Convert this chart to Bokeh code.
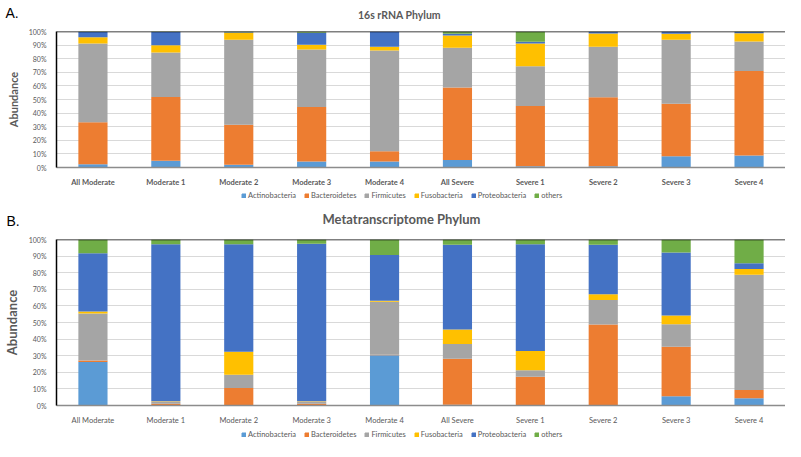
from bokeh.plotting import figure
from bokeh.layouts import column, row
from bokeh.models import ColumnDataSource, Legend, LegendItem, Span, FixedTicker
from bokeh.core.properties import value
from bokeh.embed import file_html
from bokeh.resources import INLINE

categories = ["All Moderate", "Moderate 1", "Moderate 2", "Moderate 3", "Moderate 4",
              "All Severe", "Severe 1", "Severe 2", "Severe 3", "Severe 4"]
phyla = ["Actinobacteria", "Bacteroidetes", "Firmicutes", "Fusobacteria", "Proteobacteria", "others"]
colors = ["#5B9BD5", "#ED7D31", "#A5A5A5", "#FFC000", "#4472C4", "#70AD47"]

# Panel A: 16s rRNA (percent)
a_actino = [2.4, 5.0, 2.1, 4.5, 4.5, 5.5, 1.0, 1.0, 8.3, 8.8]
a_bact = [30.9, 46.9, 29.3, 40.0, 7.4, 53.3, 44.2, 50.7, 38.6, 62.2]
a_firm = [57.9, 32.6, 62.6, 42.2, 74.1, 29.3, 29.3, 37.1, 47.1, 21.6]
a_fuso = [4.5, 5.3, 5.0, 3.5, 2.8, 9.0, 16.7, 9.8, 4.3, 6.2]
a_proteo = [3.9, 9.9, 0.5, 8.8, 11.2, 1.2, 1.2, 1.2, 1.7, 0.8]
a_others = [0.4, 0.3, 0.5, 1.0, 0.0, 1.7, 7.6, 0.2, 0.1, 0.4]

# Panel B: Metatranscriptome (percent)
b_actino = [26.2, 0.2, 0.0, 0.2, 30.3, 0.5, 0.0, 0.0, 5.6, 4.3]
b_bact = [0.9, 0.8, 10.5, 0.8, 0.3, 27.7, 17.3, 48.8, 29.8, 5.1]
b_firm = [28.3, 1.6, 8.0, 1.6, 31.9, 8.9, 4.0, 14.7, 13.6, 69.3]
b_fuso = [1.3, 0.1, 13.9, 0.1, 0.6, 8.7, 11.5, 3.5, 5.2, 3.6]
b_proteo = [35.0, 94.5, 64.8, 94.8, 27.5, 51.0, 64.4, 29.8, 37.9, 3.4]
b_others = [8.3, 2.8, 2.8, 2.5, 9.4, 3.2, 2.8, 3.2, 7.9, 14.3]

y_ticks = [0, 10, 20, 30, 40, 50, 60, 70, 80, 90, 100]
y_tick_labels = ["0%", "10%", "20%", "30%", "40%", "50%", "60%", "70%", "80%", "90%", "100%"]

FONT = "Lato"
GRAY = "#595959"
W = 785


def bare(height, xr, yr):
    f = figure(width=W, height=height, x_range=xr, y_range=yr, output_backend="svg",
               toolbar_location=None, min_border=0,
               x_axis_location=None, y_axis_location=None)
    f.grid.grid_line_color = None
    f.outline_line_color = None
    return f


def header(height, letter, title, letter_xy, title_xy, title_size):
    h = bare(height, (0, W), (0, height))
    h.text(x=[letter_xy[0]], y=[letter_xy[1]], text=[letter], text_font=value("Liberation Sans"),
           text_font_size="14px", text_color="black", text_baseline="middle", text_align="left")
    h.text(x=[title_xy[0]], y=[title_xy[1]], text=[title], text_font=value(FONT),
           text_font_size=title_size, text_font_style="bold", text_color=GRAY,
           text_baseline="middle", text_align="center")
    return h


def legend_fig(height, y):
    lf = bare(height, (0, 1), (0, 1))
    # swatch renderers lie outside the visible range; only their legend entries show
    rs = [lf.vbar(x=[5], top=[1], width=0.5, color=c) for c in colors]
    items = [LegendItem(label=value(n), renderers=[r]) for n, r in zip(phyla, rs)]
    leg = Legend(items=items, orientation="horizontal", location=(241, y),
                 label_text_font=FONT, label_text_font_size="7.5px", label_text_color=GRAY,
                 glyph_width=5, glyph_height=5, label_standoff=2, spacing=8,
                 padding=0, margin=0, border_line_color=None, background_fill_alpha=0,
                 label_height=9)
    lf.add_layout(leg, "center")
    return lf


def make_panel(series, height, border_top, xlab_bold, ylab_size):
    data = {"cat": categories}
    for name, vals in zip(phyla, series):
        data[name] = vals
    src = ColumnDataSource(data)
    p = figure(x_range=categories, y_range=(0, 100), width=W, height=height,
               output_backend="svg", toolbar_location=None,
               min_border_left=47, min_border_right=0, min_border_top=border_top,
               min_border_bottom=0)
    p.vbar_stack(phyla, x="cat", width=0.4, source=src, color=colors, line_color=None)

    p.outline_line_color = None
    p.xgrid.grid_line_color = None
    p.ygrid.grid_line_color = "#D9D9D9"
    p.ygrid.grid_line_width = 1
    p.yaxis.ticker = FixedTicker(ticks=y_ticks)
    p.yaxis.major_label_overrides = {t_: l for t_, l in zip(y_ticks, y_tick_labels)}
    p.yaxis.major_label_text_font_size = "7px"
    p.yaxis.major_label_text_color = GRAY
    p.yaxis.major_label_text_font = FONT
    p.yaxis.axis_line_color = "black"
    p.yaxis.axis_line_width = 1.5
    p.yaxis.major_tick_line_color = None
    p.yaxis.minor_tick_line_color = None
    p.yaxis.major_label_standoff = 4
    p.yaxis.axis_label = "Abundance"
    p.yaxis.axis_label_text_font = FONT
    p.yaxis.axis_label_text_font_size = ylab_size
    p.yaxis.axis_label_text_font_style = "bold"
    p.yaxis.axis_label_text_color = GRAY
    p.yaxis.axis_label_standoff = 6

    p.xaxis.axis_line_color = "#8C8C8C"
    p.xaxis.axis_line_width = 1.5
    p.xaxis.major_tick_line_color = None
    p.xaxis.minor_tick_line_color = None
    p.xaxis.major_label_text_font = FONT
    p.xaxis.major_label_text_font_size = "7.5px"
    p.xaxis.major_label_text_color = GRAY
    p.xaxis.major_label_text_font_style = "bold" if xlab_bold else "normal"
    p.xaxis.major_label_standoff = 4
    p.x_range.range_padding = 0.0

    top = Span(location=100, dimension="width", line_color="black", line_width=1.5)
    p.add_layout(top)
    return p


head_a = header(24, "A.", "16s rRNA Phylum", (5, 12), (399, 10), "10.5px")
pa = make_panel([a_actino, a_bact, a_firm, a_fuso, a_proteo, a_others], 165, 7, True, "11px")
leg_a = legend_fig(12, 1)
head_b = header(26, "B.", "Metatranscriptome Phylum", (6, 7), (401, 9), "13px")
pb = make_panel([b_actino, b_bact, b_firm, b_fuso, b_proteo, b_others], 200, 12, False, "13px")
leg_b = legend_fig(14, 2)

layout = column(row(head_a), pa, row(leg_a), row(head_b), pb, row(leg_b), spacing=0)
open("out.html", "w").write(file_html(layout, INLINE))
